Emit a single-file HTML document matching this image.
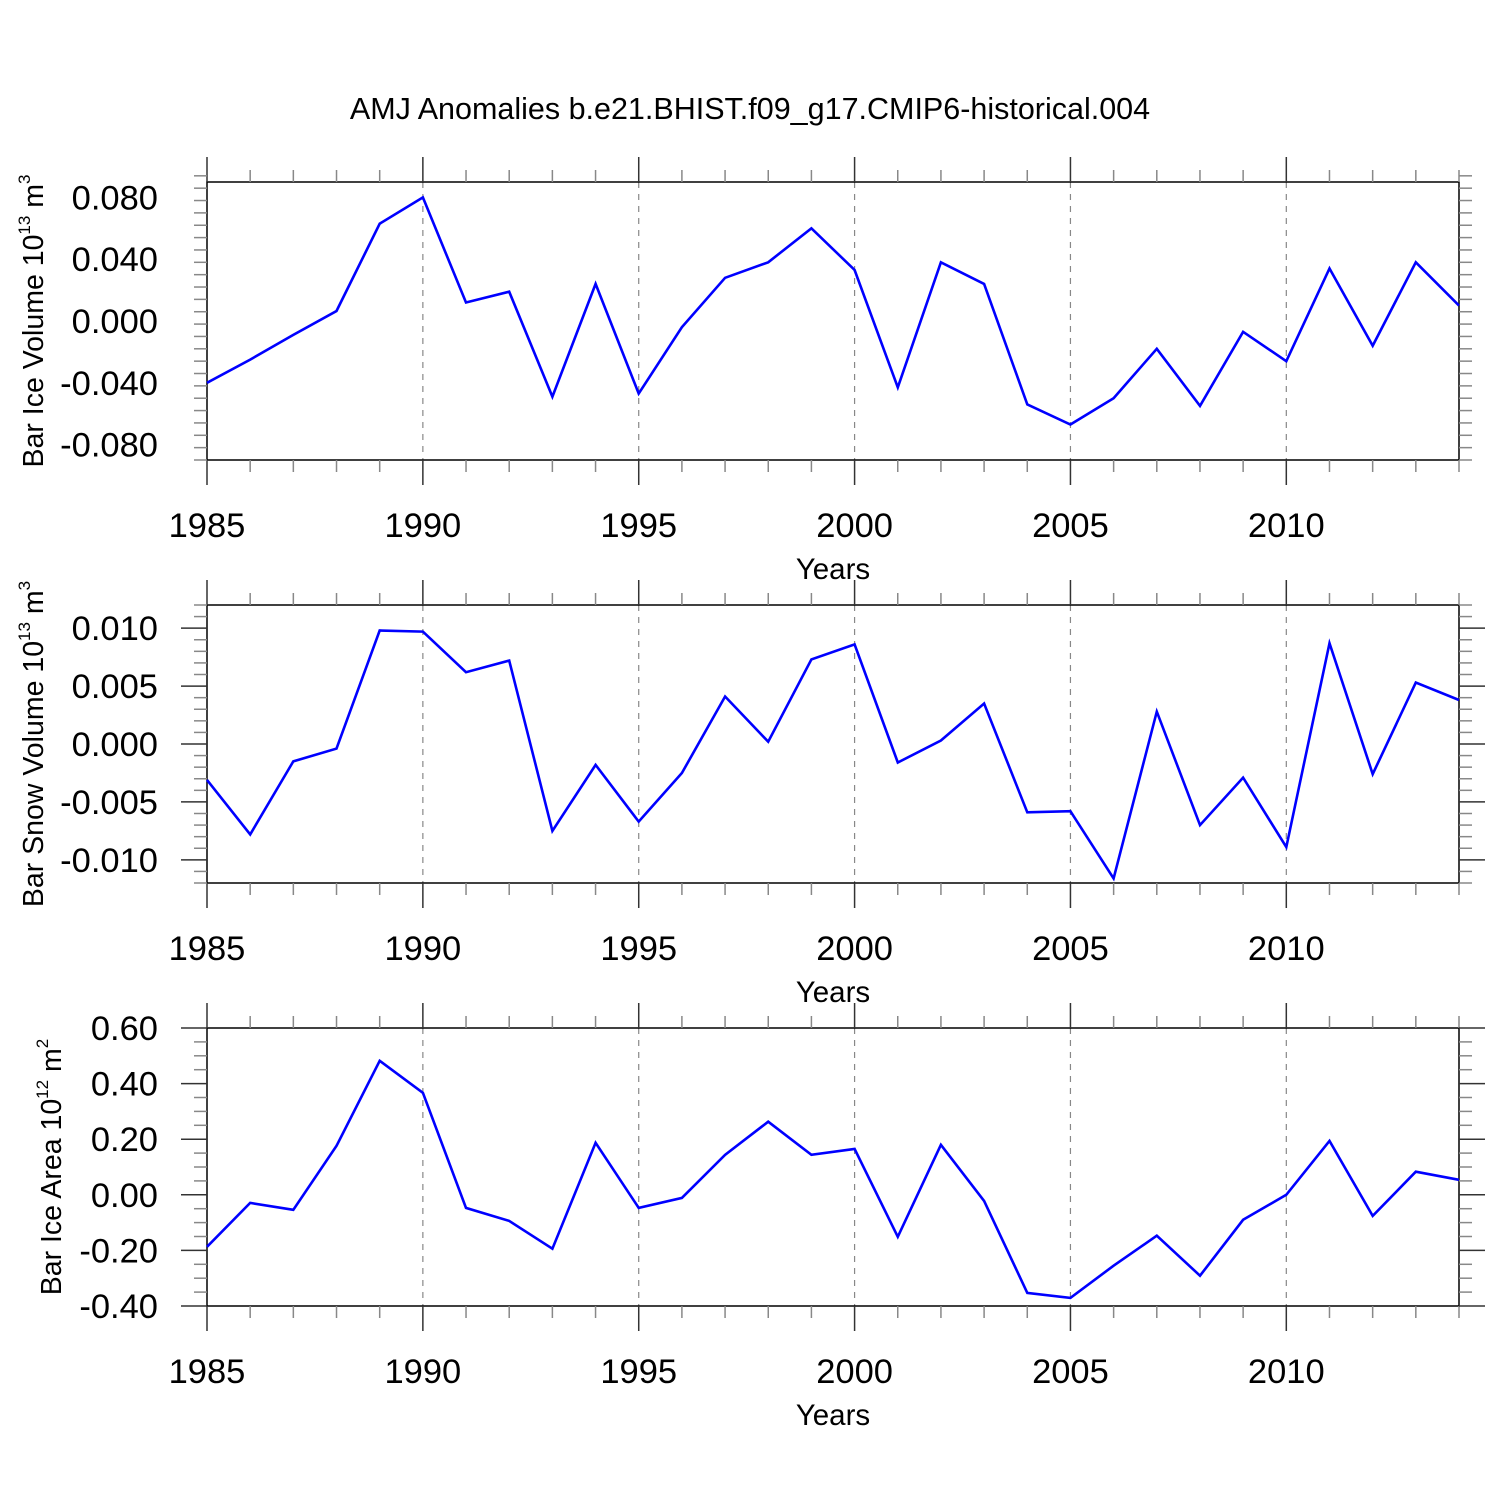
<!DOCTYPE html>
<html><head><meta charset="utf-8"><style>body{margin:0;background:#fff}svg{display:block}</style></head>
<body>
<svg id="chart" width="1500" height="1500" xmlns="http://www.w3.org/2000/svg" font-family="Liberation Sans, sans-serif">
<rect width="1500" height="1500" fill="#fff"/>
<text x="750" y="119" text-anchor="middle" font-size="30.5">AMJ Anomalies b.e21.BHIST.f09_g17.CMIP6-historical.004</text>
</svg>
<script>
const years = [1985,1986,1987,1988,1989,1990,1991,1992,1993,1994,1995,1996,1997,1998,1999,2000,2001,2002,2003,2004,2005,2006,2007,2008,2009,2010,2011,2012,2013,2014];
const iceVolume = [-0.040,-0.025,-0.009,0.0065,0.063,0.080,0.012,0.019,-0.049,0.024,-0.047,-0.004,0.028,0.038,0.060,0.033,-0.043,0.038,0.024,-0.054,-0.067,-0.050,-0.018,-0.055,-0.007,-0.026,0.034,-0.016,0.038,0.010];
const snowVolume = [-0.0031,-0.0078,-0.0015,-0.0004,0.0098,0.0097,0.0062,0.0072,-0.0075,-0.0018,-0.0067,-0.0025,0.0041,0.0002,0.0073,0.0086,-0.0016,0.0003,0.0035,-0.0059,-0.0058,-0.0116,0.0028,-0.0070,-0.0029,-0.0089,0.0087,-0.0026,0.0053,0.0038];
const iceArea = [-0.187,-0.029,-0.054,0.176,0.482,0.367,-0.047,-0.094,-0.194,0.187,-0.047,-0.011,0.144,0.263,0.144,0.165,-0.151,0.180,-0.022,-0.353,-0.371,-0.255,-0.147,-0.291,-0.090,0.000,0.194,-0.076,0.083,0.054];
const xTicks = [1985,1990,1995,2000,2005,2010];
const iceVolTicks = [-0.08,-0.04,0,0.04,0.08];
const iceVolLabels = ["-0.080","-0.040","0.000","0.040","0.080"];
const snowTicks = [-0.01,-0.005,0,0.005,0.01];
const snowLabels = ["-0.010","-0.005","0.000","0.005","0.010"];
const areaTicks = [-0.4,-0.2,0,0.2,0.4,0.6];
const areaLabels = ["-0.40","-0.20","0.00","0.20","0.40","0.60"];

const NS="http://www.w3.org/2000/svg";
const svg=document.getElementById('chart');
const X0=207,X1=1459,XMIN=1985,XMAX=2014;
function xs(v){return X0+(v-XMIN)/(XMAX-XMIN)*(X1-X0);}
function mk(tag,attrs,parent){const e=document.createElementNS(NS,tag);for(const k in attrs)e.setAttribute(k,attrs[k]);(parent||svg).appendChild(e);return e;}

function panel(name,top,ymin,ymax,ticks,labels,minorStep,data,titleMain,exp,unit,titleX){
  const bot=top+278;
  const g=mk('g',{});
  
  
  function ys(v){return bot-(v-ymin)/(ymax-ymin)*(bot-top);}
  xTicks.forEach(t=>{if(t>XMIN&&t<XMAX){const l=mk('line',{x1:xs(t),x2:xs(t),y1:top,y2:bot,stroke:'#888','stroke-width':1.2,'stroke-dasharray':'6,6'},g);}});
  const fr=mk('rect',{x:X0,y:top,width:X1-X0,height:bot-top,fill:'none',stroke:'#000','stroke-width':1.5},g);
  
  for(let yr=XMIN;yr<=XMAX;yr++){
    const major=(yr%5===0);const len=major?25:12;
    mk('line',{x1:xs(yr),x2:xs(yr),y1:top,y2:top-len,stroke:major?'#333':'#888','stroke-width':1.5},g);
    mk('line',{x1:xs(yr),x2:xs(yr),y1:bot,y2:bot+len,stroke:major?'#333':'#888','stroke-width':1.5},g);
  }
  xTicks.forEach(t=>{const tx=mk('text',{x:xs(t),y:bot+77,'text-anchor':'middle','font-size':34.5},g);tx.textContent=t;});
  const xt=mk('text',{x:833,y:bot+119,'text-anchor':'middle','font-size':29.5},g);xt.textContent='Years';
  
  const n=Math.round((ymax-ymin)/minorStep);
  for(let i=0;i<=n;i++){
    const v=ymin+i*minorStep;const y=ys(v);
    const major=ticks.some(t=>Math.abs(t-v)<minorStep/10);const len=major?26:13;
    mk('line',{x1:X0,x2:X0-len,y1:y,y2:y,stroke:major?'#333':'#888','stroke-width':1.5},g);
    mk('line',{x1:X1,x2:X1+len,y1:y,y2:y,stroke:major?'#333':'#888','stroke-width':1.5},g);
  }
  ticks.forEach((t,i)=>{const tx=mk('text',{x:158,y:ys(t)+12,'text-anchor':'end','font-size':34.5},g);tx.textContent=labels[i];});
  const cy=(top+bot)/2;
  const yt=mk('text',{x:0,y:0,'text-anchor':'middle','font-size':28.5,transform:`translate(${titleX},${cy}) rotate(-90)`},g);
  
  yt.innerHTML=`${titleMain} 10<tspan font-size="17" dy="-13">${exp}</tspan><tspan dy="13"> m</tspan><tspan font-size="17" dy="-13">${unit}</tspan>`;
  const pts=data.map((v,i)=>xs(years[i]).toFixed(1)+','+ys(v).toFixed(1)).join(' ');
  const pl=mk('polyline',{points:pts,fill:'none',stroke:'#0000ff','stroke-width':2.6,'stroke-linejoin':'miter'},g);
  
}
panel('ice-volume',182,-0.09,0.09,iceVolTicks,iceVolLabels,0.008,iceVolume,'Bar Ice Volume','13','3',43);
panel('snow-volume',605,-0.012,0.012,snowTicks,snowLabels,0.001,snowVolume,'Bar Snow Volume','13','3',43);
panel('ice-area',1028,-0.4,0.6,areaTicks,areaLabels,0.05,iceArea,'Bar Ice Area','12','2',61);
</script>
</body></html>
